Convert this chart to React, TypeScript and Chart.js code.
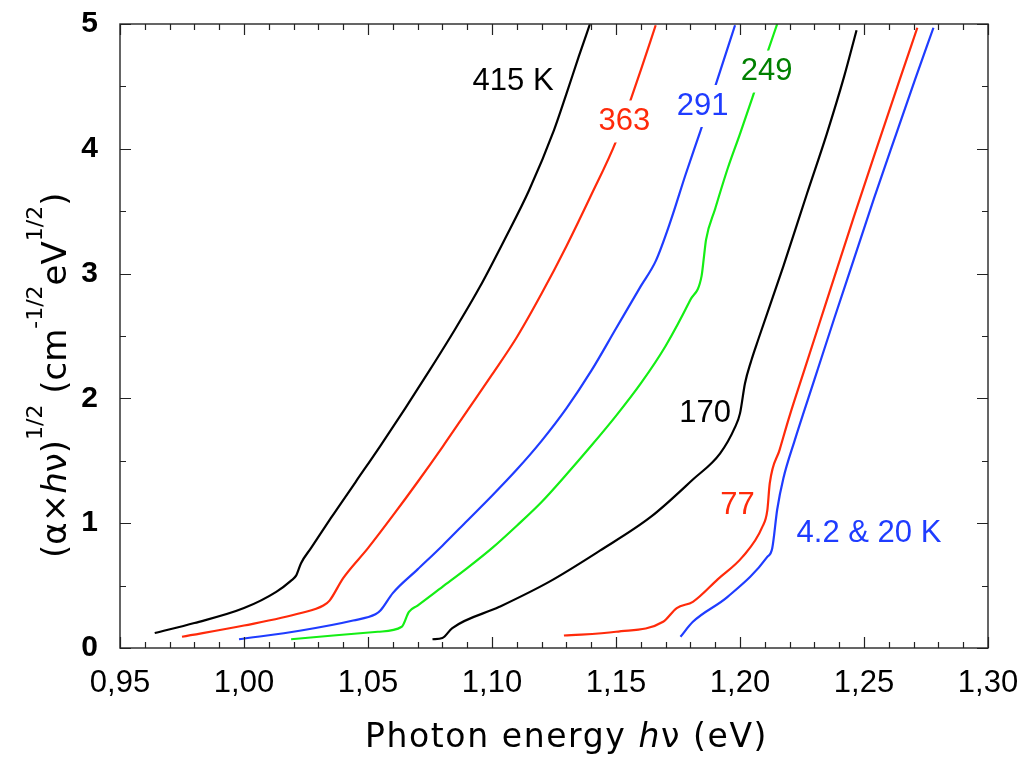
import React, { useEffect, useRef } from 'react';
import { Chart, registerables } from 'chart.js';

Chart.register(...registerables);

// ---- Axis ticks ----
const xTicks = [0.95, 1.0, 1.05, 1.1, 1.15, 1.2, 1.25, 1.3];
const yTicks = [0, 1, 2, 3, 4, 5];
const xMinorStep = 0.01;
const yMinorStep = 0.5;

// ---- Series (photon energy eV, (alpha*h*nu)^1/2) ----
const t415: [number, number][] = [
  [0.964, 0.12], [0.98, 0.2], [1.0, 0.32], [1.013, 0.45], [1.019, 0.54], [1.021, 0.58],
  [1.023, 0.68], [1.027, 0.8], [1.035, 1.04], [1.045, 1.33], [1.055, 1.62], [1.065, 1.92],
  [1.075, 2.23], [1.085, 2.55], [1.095, 2.89], [1.105, 3.27], [1.115, 3.67], [1.125, 4.15],
  [1.13, 4.44], [1.135, 4.74], [1.1395, 5.0],
];
const t363: [number, number][] = [
  [0.975, 0.09], [1.0, 0.18], [1.023, 0.28], [1.032, 0.34], [1.0345, 0.38], [1.04, 0.56],
  [1.05, 0.8], [1.06, 1.06], [1.07, 1.33], [1.08, 1.61], [1.09, 1.9], [1.1, 2.19],
  [1.11, 2.49], [1.12, 2.84], [1.13, 3.22], [1.14, 3.63], [1.15, 4.06], [1.155, 4.34],
  [1.16, 4.63], [1.166, 4.99],
];
const t291: [number, number][] = [
  [0.998, 0.07], [1.023, 0.14], [1.044, 0.22], [1.053, 0.27], [1.055, 0.3], [1.06, 0.44],
  [1.07, 0.63], [1.08, 0.82], [1.09, 1.02], [1.1, 1.22], [1.11, 1.43], [1.12, 1.66],
  [1.13, 1.92], [1.14, 2.22], [1.15, 2.56], [1.16, 2.9], [1.166, 3.1], [1.172, 3.42],
  [1.178, 3.79], [1.184, 4.14], [1.19, 4.5], [1.198, 4.99],
];
const t249: [number, number][] = [
  [1.019, 0.07], [1.036, 0.1], [1.054, 0.13], [1.0636, 0.17], [1.0665, 0.29], [1.07, 0.34],
  [1.08, 0.49], [1.09, 0.64], [1.1, 0.8], [1.11, 0.98], [1.12, 1.17], [1.13, 1.39],
  [1.14, 1.62], [1.15, 1.86], [1.16, 2.12], [1.17, 2.42], [1.18, 2.79], [1.1845, 2.98],
  [1.1855, 3.14], [1.1863, 3.27], [1.19, 3.52], [1.195, 3.84], [1.2, 4.12], [1.205, 4.41],
  [1.21, 4.71], [1.215, 5.0],
];
const t170: [number, number][] = [
  [1.076, 0.07], [1.08, 0.08], [1.084, 0.16], [1.103, 0.33], [1.123, 0.53], [1.1435, 0.78],
  [1.164, 1.05], [1.181, 1.35], [1.192, 1.56], [1.198, 1.77], [1.2, 1.88], [1.202, 2.12],
  [1.2045, 2.3], [1.2075, 2.48], [1.2175, 3.06], [1.227, 3.64], [1.235, 4.12], [1.242, 4.58],
  [1.247, 4.95],
];
const t77: [number, number][] = [
  [1.129, 0.1], [1.15, 0.13], [1.169, 0.21], [1.1745, 0.32], [1.181, 0.37], [1.191, 0.55],
  [1.201, 0.73], [1.209, 0.97], [1.211, 1.1], [1.212, 1.32], [1.216, 1.59], [1.22, 1.86],
  [1.226, 2.23], [1.232, 2.6], [1.238, 2.97], [1.246, 3.46], [1.254, 3.94], [1.2645, 4.56],
  [1.2715, 4.97],
];
const t4and20: [number, number][] = [
  [1.176, 0.09], [1.181, 0.21], [1.195, 0.41], [1.211, 0.73], [1.213, 0.8], [1.215, 1.11],
  [1.2175, 1.36], [1.222, 1.66], [1.23, 2.15], [1.238, 2.64], [1.246, 3.12], [1.254, 3.6],
  [1.263, 4.12], [1.2705, 4.55], [1.278, 4.97],
];

// ---- Curve labels (text, x, y in data units) ----
const labelTexts = ['415 K', '363', '291', '249', '170', '77', '4.2 & 20 K'];
const labelX = [1.1085, 1.1534, 1.1849, 1.2107, 1.1859, 1.199, 1.252];
const labelY = [4.543, 4.219, 4.343, 4.619, 1.879, 1.146, 0.917];
const labelColors = ['#000000', '#ff2a0a', '#1f3cff', '#008000', '#000000', '#ff2a0a', '#1f3cff'];
const labelBoxed = [false, true, true, true, false, false, false];

const RED = '#ff2a0a';
const BLUE = '#1f3cff';
const GREEN = '#14ee14';
const BLACK = '#000000';

const series = [
  { name: '415 K', data: t415, color: BLACK },
  { name: '363 K', data: t363, color: RED },
  { name: '291 K', data: t291, color: BLUE },
  { name: '249 K', data: t249, color: GREEN },
  { name: '170 K', data: t170, color: BLACK },
  { name: '77 K', data: t77, color: RED },
  { name: '4.2 & 20 K', data: t4and20, color: BLUE },
];

const LABEL_FONT = '31px "Liberation Sans", Arial, sans-serif';
const TITLE_FAMILY = '"DejaVu Sans", sans-serif';

const decorPlugin = {
  id: 'decor',
  afterDatasetsDraw(chart: any) {
    const ctx: CanvasRenderingContext2D = chart.ctx;
    const { left, right, top, bottom } = chart.chartArea;
    const xs = chart.scales.x;
    const ys = chart.scales.y;

    // curve labels (white background where the label sits on its curve)
    ctx.save();
    ctx.font = LABEL_FONT;
    ctx.textAlign = 'center';
    ctx.textBaseline = 'middle';
    labelTexts.forEach((t, i) => {
      const px = xs.getPixelForValue(labelX[i]);
      const py = ys.getPixelForValue(labelY[i]);
      const w = ctx.measureText(t).width;
      if (labelBoxed[i]) {
        ctx.fillStyle = '#ffffff';
        ctx.fillRect(px - w / 2 - 1, py - 21, w + 2, 42);
      }
      ctx.fillStyle = labelColors[i];
      ctx.fillText(t, px, py);
    });
    ctx.restore();

    // frame
    ctx.save();
    ctx.strokeStyle = '#333333';
    ctx.lineWidth = 1.5;
    ctx.strokeRect(left, top, right - left, bottom - top);

    // inward ticks on all four sides
    ctx.lineWidth = 1.2;
    ctx.strokeStyle = '#222222';
    const xMin = xTicks[0];
    const xMax = xTicks[xTicks.length - 1];
    const nX = Math.round((xMax - xMin) / xMinorStep);
    ctx.beginPath();
    for (let i = 0; i <= nX; i++) {
      const v = xMin + i * xMinorStep;
      const major = i % 5 === 0;
      const len = major ? 11 : 6;
      const px = Math.round(xs.getPixelForValue(v)) + 0.5;
      ctx.moveTo(px, bottom);
      ctx.lineTo(px, bottom - len);
      ctx.moveTo(px, top);
      ctx.lineTo(px, top + len);
    }
    const yMin = yTicks[0];
    const yMax = yTicks[yTicks.length - 1];
    const nY = Math.round((yMax - yMin) / yMinorStep);
    for (let i = 0; i <= nY; i++) {
      const v = yMin + i * yMinorStep;
      const major = i % 2 === 0;
      const len = major ? 11 : 6;
      const py = Math.round(ys.getPixelForValue(v)) + 0.5;
      ctx.moveTo(left, py);
      ctx.lineTo(left + len, py);
      ctx.moveTo(right, py);
      ctx.lineTo(right - len, py);
    }
    ctx.stroke();
    ctx.restore();

    // x axis title
    ctx.save();
    ctx.fillStyle = '#000';
    ctx.textBaseline = 'alphabetic';
    ctx.textAlign = 'left';
    (ctx as any).letterSpacing = '1.6px';
    const xParts: { t: string; it?: boolean }[] = [
      { t: 'Photon energy ' },
      { t: 'h', it: true },
      { t: 'ν (eV)' },
    ];
    let cx = 365;
    xParts.forEach((p) => {
      ctx.font = (p.it ? 'italic ' : '') + '33px ' + TITLE_FAMILY;
      ctx.fillText(p.t, cx, 747);
      cx += ctx.measureText(p.t).width;
    });
    ctx.restore();

    // y axis title (rotated, with superscripts)
    ctx.save();
    const yParts: { t: string; sup?: boolean; it?: boolean }[] = [
      { t: '(α×' },
      { t: 'h', it: true },
      { t: 'ν)' },
      { t: '1/2', sup: true },
      { t: ' (cm' },
      { t: '-1/2', sup: true },
      { t: 'eV' },
      { t: '1/2', sup: true },
      { t: ')' },
    ];
    const fontFor = (p: { sup?: boolean; it?: boolean }) =>
      (p.it ? 'italic ' : '') + (p.sup ? '22px ' : '34px ') + TITLE_FAMILY;
    const bottomStart = 558;
    ctx.translate(66, bottomStart);
    ctx.rotate(-Math.PI / 2);
    ctx.fillStyle = '#000';
    ctx.textAlign = 'left';
    ctx.textBaseline = 'alphabetic';
    let ox = 0;
    yParts.forEach((p) => {
      ctx.font = fontFor(p);
      ctx.fillText(p.t, ox, p.sup ? -24 : 0);
      ox += ctx.measureText(p.t).width;
    });
    ctx.restore();
  },
};

export default function App() {
  const ref = useRef<HTMLCanvasElement>(null);
  useEffect(() => {
    const canvas = ref.current;
    if (!canvas) return;
    const chart = new Chart(canvas, {
      type: 'scatter',
      data: {
        datasets: series.map((s) => ({
          label: s.name,
          data: s.data.map(([x, y]) => ({ x, y })),
          showLine: true,
          borderColor: s.color,
          backgroundColor: s.color,
          borderWidth: 2.2,
          pointRadius: 0,
          pointHoverRadius: 0,
          cubicInterpolationMode: 'monotone',
          fill: false,
        })),
      },
      options: {
        responsive: false,
        animation: false,
        devicePixelRatio: 1,
        layout: { padding: { top: 24, right: 37, left: 0, bottom: 0 } },
        plugins: {
          legend: { display: false },
          tooltip: { enabled: false },
          title: { display: false },
        },
        scales: {
          x: {
            type: 'linear',
            min: xTicks[0],
            max: xTicks[xTicks.length - 1],
            afterBuildTicks: (scale: any) => {
              scale.ticks = xTicks.map((v) => ({ value: v }));
            },
            afterFit: (scale: any) => {
              scale.height = 109;
              scale.paddingLeft = 0;
              scale.paddingRight = 0;
            },
            grid: { display: false },
            border: { display: false },
            ticks: {
              autoSkip: false,
              maxRotation: 0,
              minRotation: 0,
              padding: 9,
              color: '#000',
              font: { family: '"Liberation Sans", Arial, sans-serif', size: 31, lineHeight: 1.2 },
              callback: (v: any) => Number(v).toFixed(2).replace('.', ','),
            },
          },
          y: {
            type: 'linear',
            min: yTicks[0],
            max: yTicks[yTicks.length - 1],
            afterBuildTicks: (scale: any) => {
              scale.ticks = yTicks.map((v) => ({ value: v }));
            },
            afterFit: (scale: any) => {
              scale.width = 120;
              scale.paddingTop = 0;
              scale.paddingBottom = 0;
            },
            grid: { display: false },
            border: { display: false },
            ticks: {
              autoSkip: false,
              padding: 14,
              color: '#000',
              font: { family: '"Liberation Sans", Arial, sans-serif', size: 30, weight: 'bold', lineHeight: 1.2 },
              callback: (v: any) => String(v),
            },
          },
        },
      } as any,
      plugins: [decorPlugin],
    });
    return () => chart.destroy();
  }, []);

  return (
    <div style={{ position: 'fixed', left: 0, top: 0, width: 1025, height: 757, background: '#ffffff' }}>
      <canvas ref={ref} width={1025} height={757} style={{ display: 'block', width: 1025, height: 757 }} />
    </div>
  );
}
